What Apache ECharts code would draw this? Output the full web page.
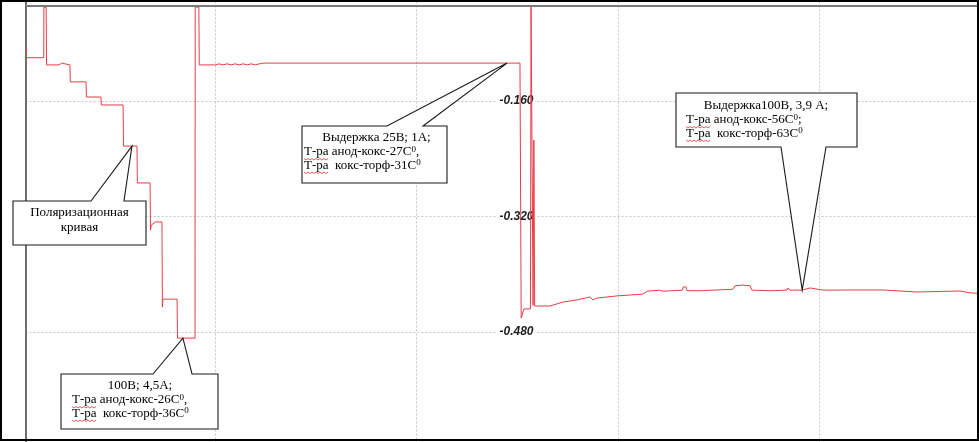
<!DOCTYPE html>
<html><head><meta charset="utf-8">
<script src="https://cdn.jsdelivr.net/npm/echarts@6/dist/echarts.min.js"></script>
<style>html,body{margin:0;padding:0;background:#fff}#c{width:979px;height:442px}</style>
</head><body><div id="c"></div>
<script>
// time (arbitrary units, 100 per vertical grid line)
const timeValues = [
  6.3, 6.3, 15.0, 15.1, 16.2, 16.4, 22.6, 23.2, 23.9, 24.4, 28.0, 28.2, 36.0, 36.2, 43.4, 43.6,
  54.4, 54.6, 61.3, 61.5, 67.8, 68.0, 68.4, 69.3, 70.4, 73.7, 73.9, 74.1, 81.2, 81.4, 90.1, 90.2,
  92.0, 92.2, 100.5, 102, 104, 106, 108, 110, 112, 114, 116, 118, 120, 122, 124.3, 251.4,
  252.0, 253.4, 256.6, 256.9, 257.6, 257.9, 258.3, 258.7, 266.3, 272.8, 279.7, 286.2, 287.0, 287.6,
  289.6, 299.6, 312.5, 314.5, 320.9, 322.4, 332.0, 332.5, 333.8, 334.3, 340.8, 357.1, 358.1, 361.6,
  365.6, 366.5, 375.5, 384.0, 384.4, 385.4, 391.4, 395.4, 401.8, 415.2, 431.6, 440.0, 448.5, 469.8,
  474.8, 478.8
];
// potential, V
const potentialValues = [
  -0.087, -0.100, -0.100, -0.030, -0.030, -0.110, -0.110, -0.1075, -0.1075, -0.110, -0.110, -0.1335, -0.1335, -0.1545, -0.1545, -0.1655,
  -0.1655, -0.2225, -0.2225, -0.2735, -0.2735, -0.339, -0.332, -0.3345, -0.3275, -0.3275, -0.4455, -0.4345, -0.4345, -0.4885, -0.4885, -0.030,
  -0.030, -0.110, -0.110, -0.1085, -0.110, -0.1085, -0.110, -0.1085, -0.110, -0.1085, -0.110, -0.1085, -0.110, -0.1085, -0.1075, -0.1075,
  -0.4605, -0.448, -0.448, -0.030, -0.030, -0.443, -0.214, -0.444, -0.444, -0.4385, -0.4355, -0.4315, -0.4335, -0.4355,
  -0.433, -0.430, -0.4275, -0.4235, -0.422, -0.4235, -0.422, -0.4175, -0.4175, -0.4228, -0.4228, -0.4208, -0.416, -0.415,
  -0.416, -0.422, -0.4228, -0.422, -0.419, -0.422, -0.422, -0.419, -0.422, -0.4218, -0.4218, -0.4232, -0.4246, -0.4232,
  -0.4258, -0.4265
];
const yTickLabels = ['-0.160', '-0.320', '-0.480'];

// callouts: text lines and the data point each one points at
const calloutLines = [
  ['Поляризационная', 'кривая'],
  ['100В; 4,5А;', 'Т-ра анод-кокс-26С{s|0},', 'Т-ра  кокс-торф-36С{s|0}'],
  ['Выдержка 25В; 1А;', 'Т-ра анод-кокс-27С{s|0},', 'Т-ра  кокс-торф-31С{s|0}'],
  ['Выдержка100В, 3,9 А;', 'Т-ра анод-кокс-56С{s|0};', 'Т-ра  кокс-торф-63С{s|0}']
];
const calloutAnchorX = [58.8, 84.1, 245.0, 391.5];
const calloutAnchorY = [-0.2225, -0.4885, -0.1075, -0.4220];

// layout of the callout boxes (pixels)
const calloutLayout = [
  {box: [13, 201, 146, 245], base: 'top', w: [91, 124], lines: [{x: 79.5, y: 213, a: 'center'}, {x: 79.5, y: 227.5, a: 'center'}]},
  {box: [61, 374, 218, 429], base: 'top', w: [153, 192], lines: [{x: 140, y: 386, a: 'center'}, {x: 72, y: 400, a: 'left', u: 1}, {x: 72, y: 413.5, a: 'left', u: 1}]},
  {box: [302, 126, 447, 183], base: 'top', w: [387, 423], lines: [{x: 376.5, y: 138, a: 'center'}, {x: 304, y: 152, a: 'left', u: 1}, {x: 304, y: 165.5, a: 'left', u: 1}]},
  {box: [676, 93, 857, 147], base: 'bottom', w: [781, 826], lines: [{x: 766, y: 106, a: 'center'}, {x: 686, y: 120, a: 'left', u: 1}, {x: 686, y: 133.5, a: 'left', u: 1}]}
];

const chart = echarts.init(document.getElementById('c'), null, {renderer: 'canvas'});
const lineData = timeValues.map((t, i) => [t, potentialValues[i]]);
const dotted = {color: '#c8c8c8', width: 1, type: [2, 2]};

chart.setOption({
  animation: false,
  backgroundColor: '#fff',
  grid: {left: 13.5, right: 0.5, top: -14.5, bottom: -5.5, containLabel: false, outerBoundsMode: 'none'},
  xAxis: {
    type: 'value', min: 0, max: 479, interval: 100,
    axisLine: {show: false}, axisTick: {show: false}, axisLabel: {show: false},
    splitLine: {show: true, showMinLine: false, showMaxLine: false, lineStyle: dotted}
  },
  yAxis: [
    {
      type: 'value', min: -0.64, max: 0, interval: 0.16, position: 'left', offset: -12.5,
      axisLine: {show: true, lineStyle: {color: '#6e6e6e', width: 2}},
      axisTick: {show: false}, axisLabel: {show: false},
      splitLine: {show: true, lineStyle: dotted}
    },
    {
      type: 'value', min: -0.64, max: 0, interval: 0.16, position: 'left', offset: -523,
      axisLine: {show: false}, axisTick: {show: false}, splitLine: {show: false},
      axisLabel: {
        show: true, margin: 1, showMinLabel: false, showMaxLabel: false,
        fontFamily: '"Liberation Sans", Arial, sans-serif', fontSize: 12,
        fontWeight: 'bold', fontStyle: 'italic', color: '#1e1e1e',
        backgroundColor: '#fff', padding: [0, 2],
        formatter: function (v) {
          const s = v.toFixed(3);
          return yTickLabels.indexOf(s) >= 0 ? s : '';
        }
      }
    }
  ],
  series: [{
    type: 'line', data: lineData, showSymbol: false, symbol: 'none',
    lineStyle: {color: '#e63c48', width: 1}, z: 3
  }]
});

const gfx = [];
// blank strip left of the axis line
gfx.push({type: 'rect', z: 90, shape: {x: 2, y: 2, width: 23, height: 437}, style: {fill: '#fff'}});
const serif = '13px "Liberation Serif", "Times New Roman", serif';
calloutLayout.forEach((c, i) => {
  const tip = chart.convertToPixel({xAxisIndex: 0, yAxisIndex: 0}, [calloutAnchorX[i], calloutAnchorY[i]]);
  const [x0, y0, x1, y1] = c.box;
  let pts;
  if (c.base === 'top') {
    pts = [[x0, y0], [c.w[0], y0], tip, [c.w[1], y0], [x1, y0], [x1, y1], [x0, y1]];
  } else {
    pts = [[x0, y0], [x1, y0], [x1, y1], [c.w[1], y1], tip, [c.w[0], y1], [x0, y1]];
  }
  gfx.push({type: 'polygon', z: 100, shape: {points: pts},
    style: {fill: '#fff', stroke: '#1a1a1a', lineWidth: 1.1}});
  calloutLines[i].forEach((txt, k) => {
    const L = c.lines[k];
    gfx.push({type: 'text', z: 101, x: L.x, y: L.y, style: {
      text: txt, font: serif, fill: '#000', align: L.a, verticalAlign: 'middle', lineHeight: 14,
      rich: {s: {fontSize: 9, fontFamily: '"Liberation Serif", serif', fill: '#000', verticalAlign: 'top', lineHeight: 9}}
    }});
    if (L.u) {
      // spell-check style wavy underline under "Т-ра"
      const pts2 = [];
      for (let px = 0; px <= 24; px += 2) pts2.push([L.x + px, L.y + 6.5 + (px % 4 === 0 ? 0 : 1.5)]);
      gfx.push({type: 'polyline', z: 102, shape: {points: pts2}, style: {stroke: '#e0303a', lineWidth: 0.8, fill: null}});
    }
  });
});
// outer frame and top rule
gfx.push({type: 'line', z: 120, shape: {x1: 26, y1: 6, x2: 977, y2: 6}, style: {stroke: '#7a7a7a', lineWidth: 2}});
gfx.push({type: 'rect', z: 121, shape: {x: 1, y: 1, width: 977, height: 439}, style: {fill: null, stroke: '#000', lineWidth: 2}});
chart.setOption({graphic: gfx});
</script></body></html>
